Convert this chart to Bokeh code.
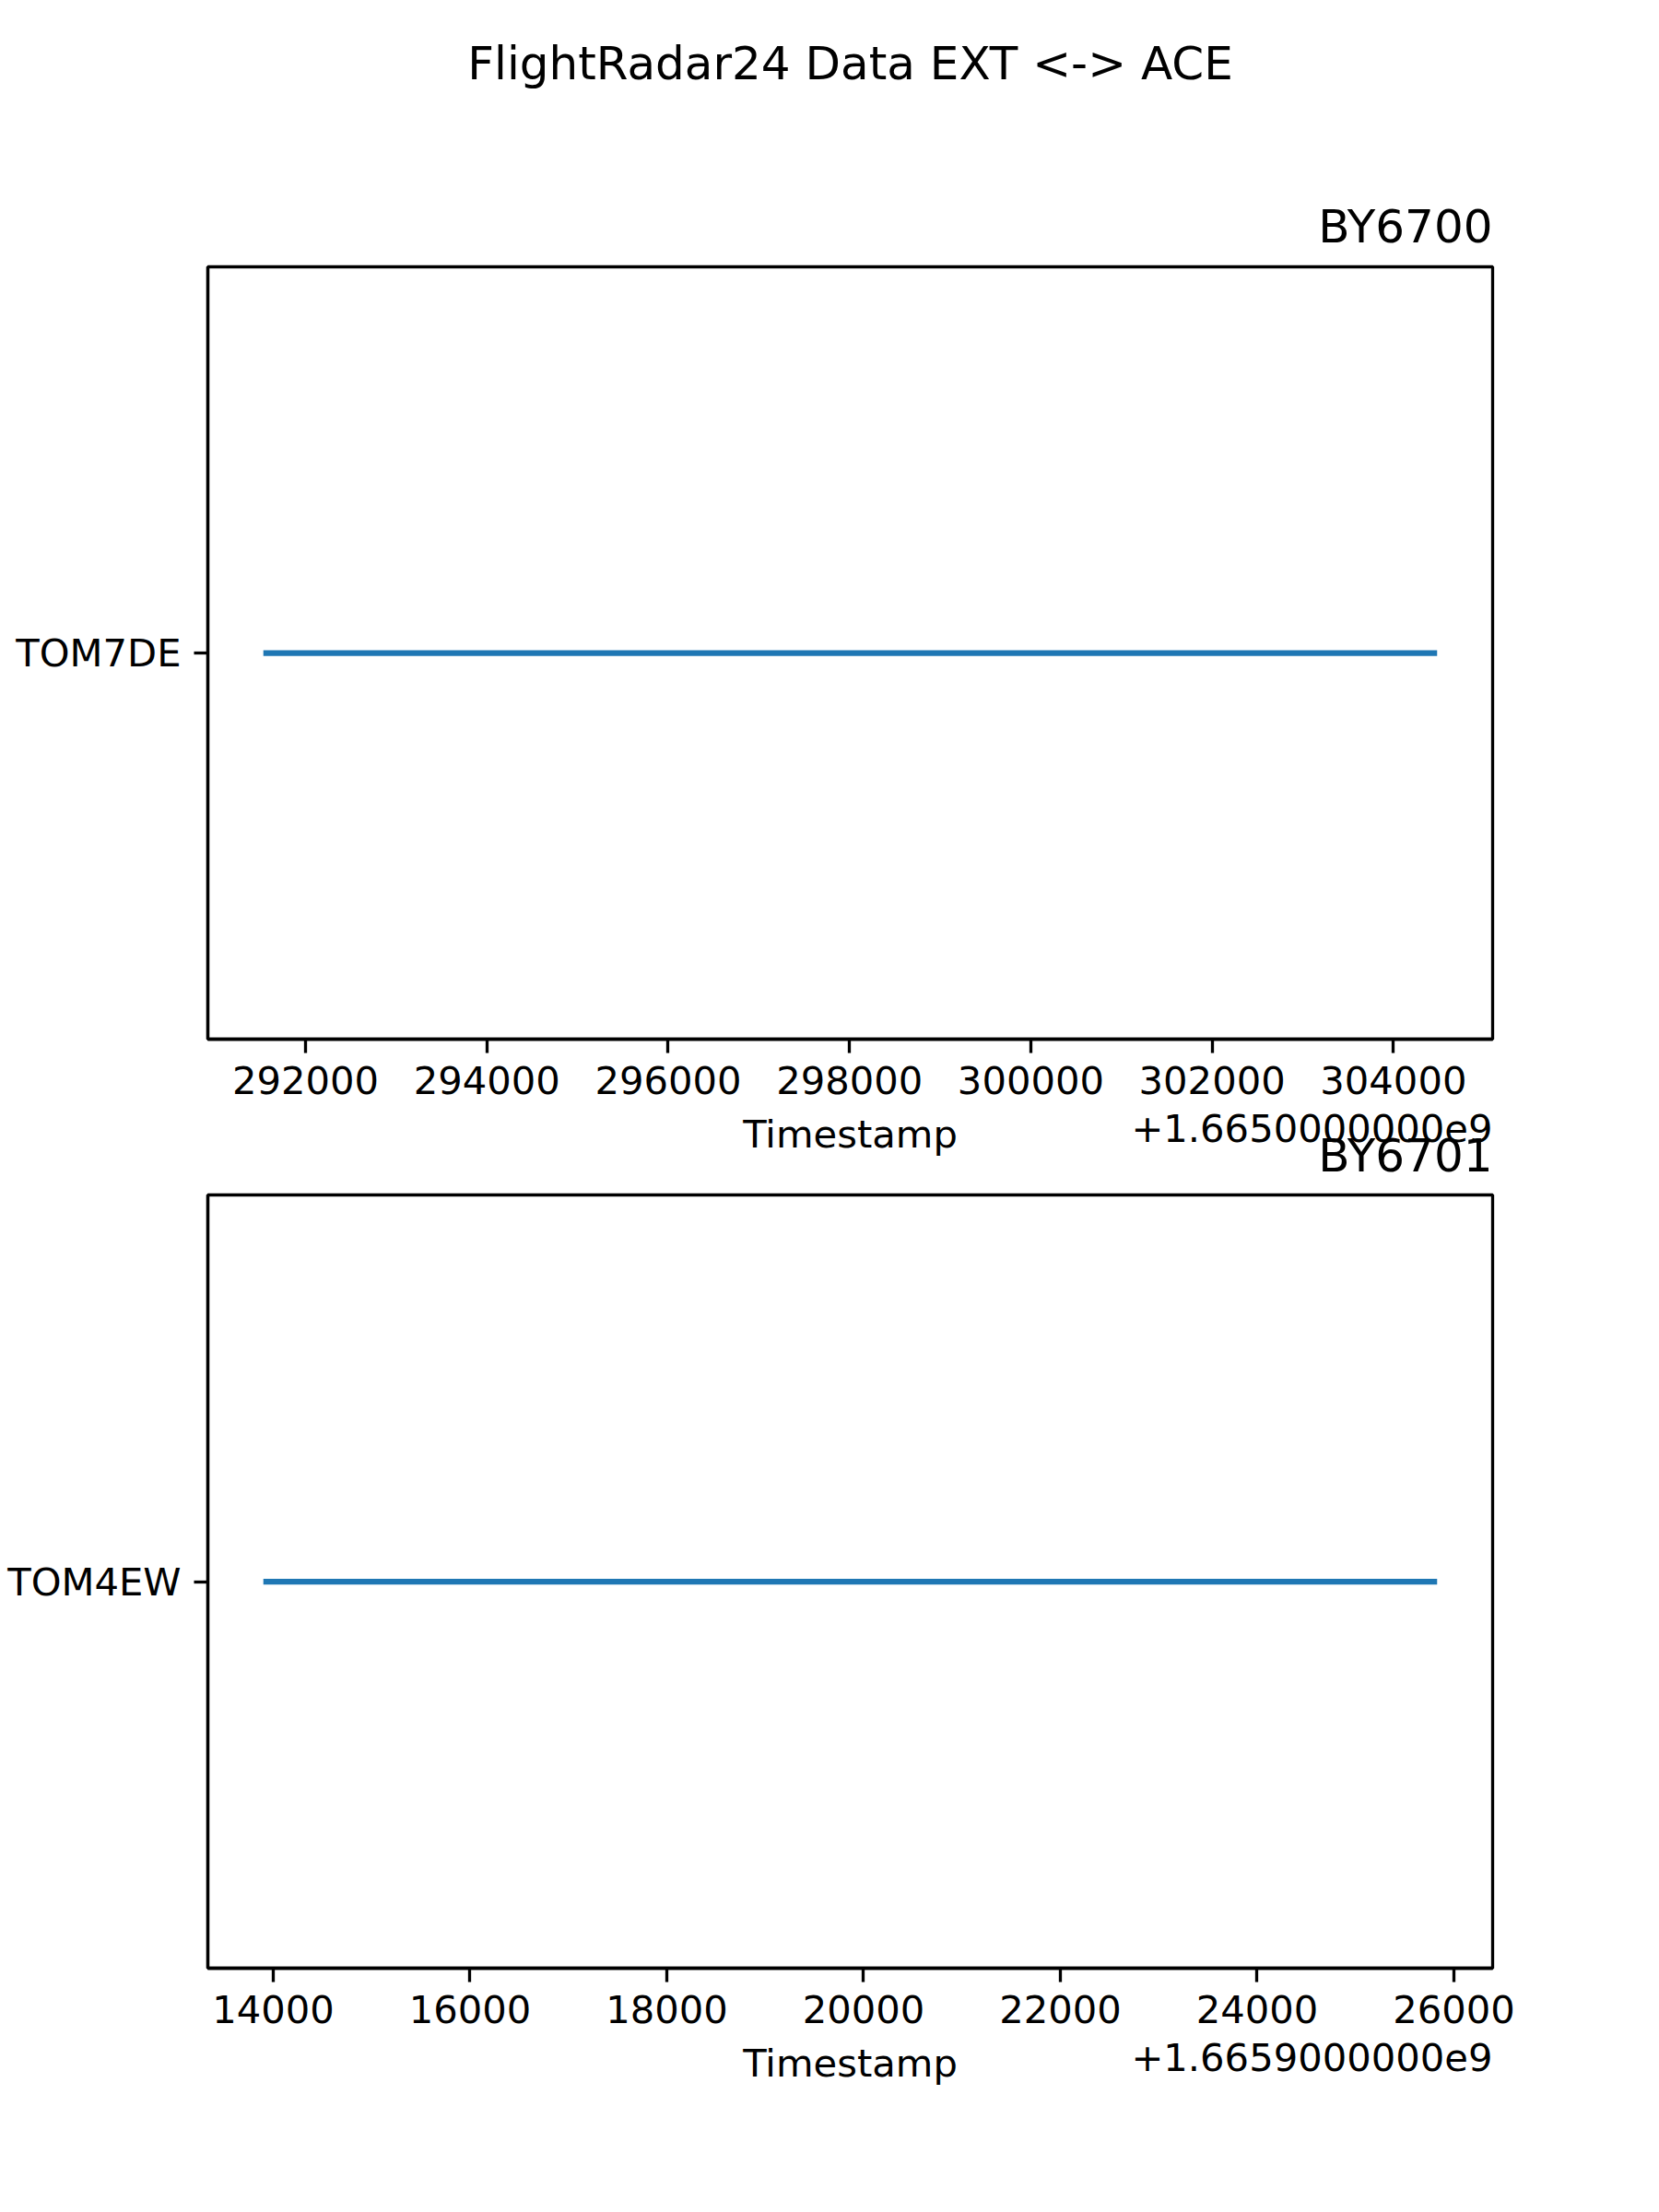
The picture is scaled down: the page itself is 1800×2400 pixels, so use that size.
from bokeh.plotting import figure
from bokeh.models import Range1d, FactorRange, FixedTicker, CustomJSTickFormatter, Title
from bokeh.layouts import column
from bokeh.embed import file_html
from bokeh.resources import INLINE

# ---------------- data ----------------
SUPTITLE = "FlightRadar24 Data EXT <-> ACE"
X_LABEL = "Timestamp"

flight_top = "BY6700"
callsign_top = ["TOM7DE", "TOM7DE"]
timestamp_top = [1665291566, 1665304450]
offset_top = 1665000000
offset_text_top = "+1.6650000000e9"
ticks_top = [292000, 294000, 296000, 298000, 300000, 302000, 304000]

flight_bottom = "BY6701"
callsign_bottom = ["TOM4EW", "TOM4EW"]
timestamp_bottom = [1665913929, 1665925800]
offset_bottom = 1665900000
offset_text_bottom = "+1.6659000000e9"
ticks_bottom = [14000, 16000, 18000, 20000, 22000, 24000, 26000]

# ---------------- style ----------------
FONT = "DejaVu Sans"
SMALL = "41.7px"
LARGE = "50px"
LW = 3.3
BLUE = "#1f77b4"


def style_title(t, size=LARGE):
    t.text_font = FONT
    t.text_font_size = size
    t.text_font_style = "normal"
    t.text_color = "black"


def make_panel(callsigns, ts, offset, offset_text, ticks, height,
               border_top, border_bottom):
    lo, hi = min(ts), max(ts)
    pad = 0.05 * (hi - lo)
    p = figure(width=1800, height=height,
               x_range=Range1d(lo - pad, hi + pad),
               y_range=FactorRange(factors=sorted(set(callsigns))),
               output_backend="svg", toolbar_location=None,
               min_border_left=225, min_border_right=181,
               min_border_top=border_top, min_border_bottom=border_bottom)
    p.line(ts, callsigns, line_color=BLUE, line_width=6.25, line_cap="square")

    p.grid.visible = False
    p.outline_line_color = "black"
    p.outline_line_width = LW
    p.outline_line_alpha = 1

    for ax in (p.xaxis[0], p.yaxis[0]):
        ax.axis_line_color = "black"
        ax.axis_line_width = LW
        ax.major_tick_line_color = "black"
        ax.major_tick_line_width = LW
        ax.major_tick_out = 15
        ax.major_tick_in = 0
        ax.minor_tick_line_color = None
        ax.major_label_text_font = FONT
        ax.major_label_text_font_size = SMALL
        ax.major_label_text_color = "black"

    p.xaxis.ticker = FixedTicker(ticks=[offset + t for t in ticks])
    p.xaxis.formatter = CustomJSTickFormatter(args=dict(offset=offset),
                                              code="return (tick - offset).toFixed(0)")
    p.xaxis.major_label_standoff = 14
    p.xaxis.axis_label = X_LABEL
    p.xaxis.axis_label_text_font = FONT
    p.xaxis.axis_label_text_font_size = SMALL
    p.xaxis.axis_label_text_font_style = "normal"
    p.xaxis.axis_label_text_color = "black"
    p.xaxis.axis_label_standoff = 16
    p.yaxis.major_label_standoff = 14

    # offset text of the x axis (matplotlib style), pulled up beside the axis label
    ot = Title(text=offset_text, align="right", vertical_align="top", standoff=-98)
    style_title(ot, SMALL)
    p.add_layout(ot, "below")
    return p


# top panel: canvas from -64 to 1267, frame 288..1127
p1 = make_panel(callsign_top, timestamp_top, offset_top, offset_text_top,
                ticks_top, 1331, 352, 140)
p1.title.text = SUPTITLE
p1.title.align = "center"
p1.title.offset = -23
p1.title.standoff = 203
style_title(p1.title)
t1 = Title(text=flight_top, align="right", standoff=30)
style_title(t1)
p1.add_layout(t1, "above")
p1.margin = (-64, 0, 0, 0)

# bottom panel: canvas from 1206 to 2400, frame 1296..2135
p2 = make_panel(callsign_bottom, timestamp_bottom, offset_bottom, offset_text_bottom,
                ticks_bottom, 1194, 90, 265)
p2.title.text = flight_bottom
p2.title.align = "right"
p2.title.standoff = 28
style_title(p2.title)
p2.border_fill_alpha = 0
p2.margin = (-61, 0, 0, 0)

layout = column(p1, p2)
open("out.html", "w").write(file_html(layout, INLINE))
